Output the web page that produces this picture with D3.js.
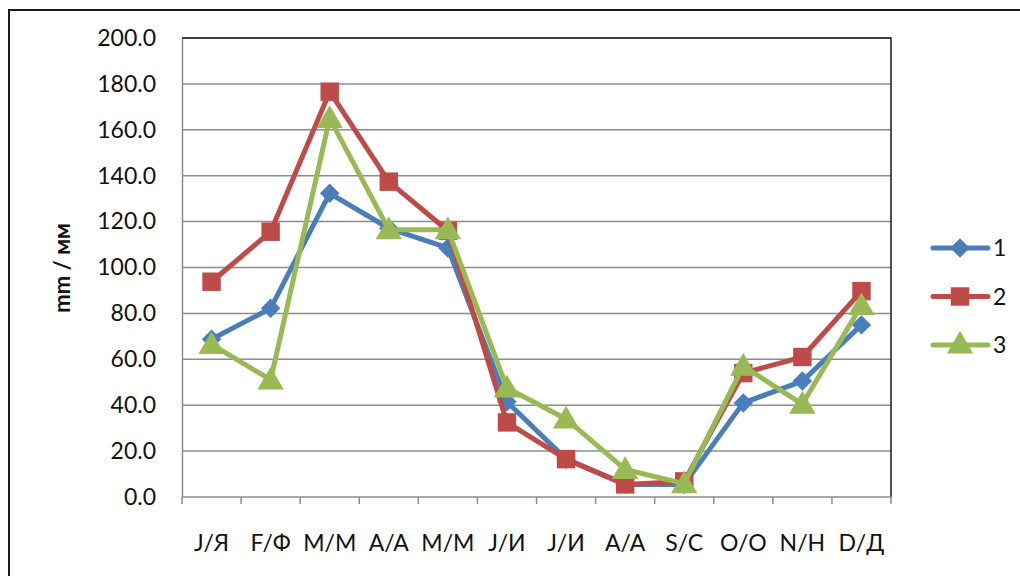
<!DOCTYPE html>
<html>
<head>
<meta charset="utf-8">
<script src="https://cdn.jsdelivr.net/npm/d3@7"></script>
<style>
body { margin: 0; background: #fff; }
text { font-family: Lato, "Liberation Sans", sans-serif; }
</style>
</head>
<body>
<script>
// months, latin / cyrillic
let months = ["J/Я", "F/Ф", "M/M", "A/A", "M/M", "J/И", "J/И", "A/A", "S/C", "O/O", "N/H", "D/Д"];
let seriesNames = ["1", "2", "3"];
let s1 = [68.7, 82.2, 132.3, 117.1, 108.5, 41.5, 16.5, 5.5, 5.5, 41.0, 50.5, 75.0];
let s2 = [93.8, 115.6, 176.6, 137.4, 116.0, 32.5, 16.5, 5.5, 6.8, 54.0, 61.0, 89.7];
let s3 = [66.5, 51.0, 165.0, 116.5, 116.5, 47.5, 34.0, 12.0, 5.8, 57.0, 40.5, 83.5];
let yTicks = [0, 20, 40, 60, 80, 100, 120, 140, 160, 180, 200];

let width = 1020;
let height = 576;
let colors = ["#4a7ebb", "#be4b48", "#98b954"];
// diamond = square turned 45 degrees
let shapes = [d3.symbolSquare, d3.symbolSquare, d3.symbolTriangle];
let sizes = [190, 340, 300];
let turn = [45, 0, 0];

let svg = d3.select("body").append("svg").attr("width", width).attr("height", height);

// outer chart border (runs off the picture right and bottom)
svg.append("rect")
  .attr("x", 9).attr("y", 10)
  .attr("width", 1100).attr("height", 1000)
  .attr("fill", "#fff")
  .attr("stroke", "#1a1a1a")
  .attr("stroke-width", 2);

let pLeft = 182, pRight = 891, pTop = 38, pBottom = 497;

let x = d3.scaleBand().domain(d3.range(months.length)).range([pLeft, pRight]);
let y = d3.scaleLinear().domain([0, 200]).range([pBottom, pTop]);

// gridlines
svg.append("g")
  .selectAll("line")
  .data(yTicks.slice(1))
  .join("line")
  .attr("x1", pLeft).attr("x2", pRight)
  .attr("y1", d => y(d)).attr("y2", d => y(d))
  .attr("stroke", "#8c8c8c")
  .attr("stroke-width", 1.5);

// plot border top / right
svg.append("path")
  .attr("d", `M${pLeft},${pTop}H${pRight}V${pBottom}`)
  .attr("fill", "none")
  .attr("stroke", "#1a1a1a")
  .attr("stroke-width", 1.5);

// y axis
let yAxis = svg.append("g")
  .attr("transform", `translate(${pLeft},0)`)
  .call(d3.axisLeft(y).tickValues(yTicks).tickFormat(d3.format(".1f")).tickSize(0).tickPadding(26));
yAxis.select(".domain").attr("stroke", "#8c8c8c").attr("stroke-width", 1.5);
yAxis.selectAll("text").attr("font-size", 23).attr("fill", "#111");

// x axis line and ticks between categories
let xAxis = svg.append("g");
xAxis.append("line")
  .attr("x1", pLeft).attr("x2", pRight)
  .attr("y1", pBottom).attr("y2", pBottom)
  .attr("stroke", "#8c8c8c").attr("stroke-width", 1.5);
xAxis.selectAll(".tk")
  .data(d3.range(months.length + 1))
  .join("line")
  .attr("class", "tk")
  .attr("x1", i => pLeft + i * x.step()).attr("x2", i => pLeft + i * x.step())
  .attr("y1", pBottom).attr("y2", pBottom + 7)
  .attr("stroke", "#8c8c8c").attr("stroke-width", 1.5);
xAxis.selectAll("text")
  .data(months)
  .join("text")
  .attr("x", (d, i) => x(i) + x.bandwidth() / 2)
  .attr("y", 551)
  .attr("text-anchor", "middle")
  .attr("font-size", 23)
  .attr("fill", "#111")
  .text(d => d);

// y title
svg.append("text")
  .attr("transform", "translate(70,268) rotate(-90)")
  .attr("text-anchor", "middle")
  .attr("font-size", 22)
  .attr("font-weight", "bold")
  .attr("fill", "#111")
  .text("mm / мм");

let series = [s1, s2, s3];
let line = d3.line().x((d, i) => x(i) + x.bandwidth() / 2).y(d => y(d));

series.forEach((vals, k) => {
  let g = svg.append("g");
  g.append("path")
    .attr("d", line(vals))
    .attr("fill", "none")
    .attr("stroke", colors[k])
    .attr("stroke-width", 5)
    .attr("stroke-linejoin", "round")
    .attr("stroke-linecap", "round");
  g.selectAll("path.m")
    .data(vals)
    .join("path")
    .attr("class", "m")
    .attr("transform", (d, i) => `translate(${x(i) + x.bandwidth() / 2},${y(d) + (k == 2 ? 2 : 0)}) rotate(${turn[k]})`)
    .attr("d", d3.symbol().type(shapes[k]).size(sizes[k]))
    .attr("fill", colors[k]);
});

// legend
let legend = svg.append("g");
seriesNames.forEach((name, k) => {
  let ly = 248 + k * 48.5;
  legend.append("line")
    .attr("x1", 933).attr("x2", 988)
    .attr("y1", ly).attr("y2", ly)
    .attr("stroke", colors[k]).attr("stroke-width", 5)
    .attr("stroke-linecap", "round");
  legend.append("path")
    .attr("transform", `translate(960,${ly + (k == 2 ? 1 : 0)}) rotate(${turn[k]})`)
    .attr("d", d3.symbol().type(shapes[k]).size(sizes[k]))
    .attr("fill", colors[k]);
  legend.append("text")
    .attr("x", 993).attr("y", ly + 8)
    .attr("font-size", 23)
    .attr("fill", "#111")
    .text(name);
});
</script>
</body>
</html>
